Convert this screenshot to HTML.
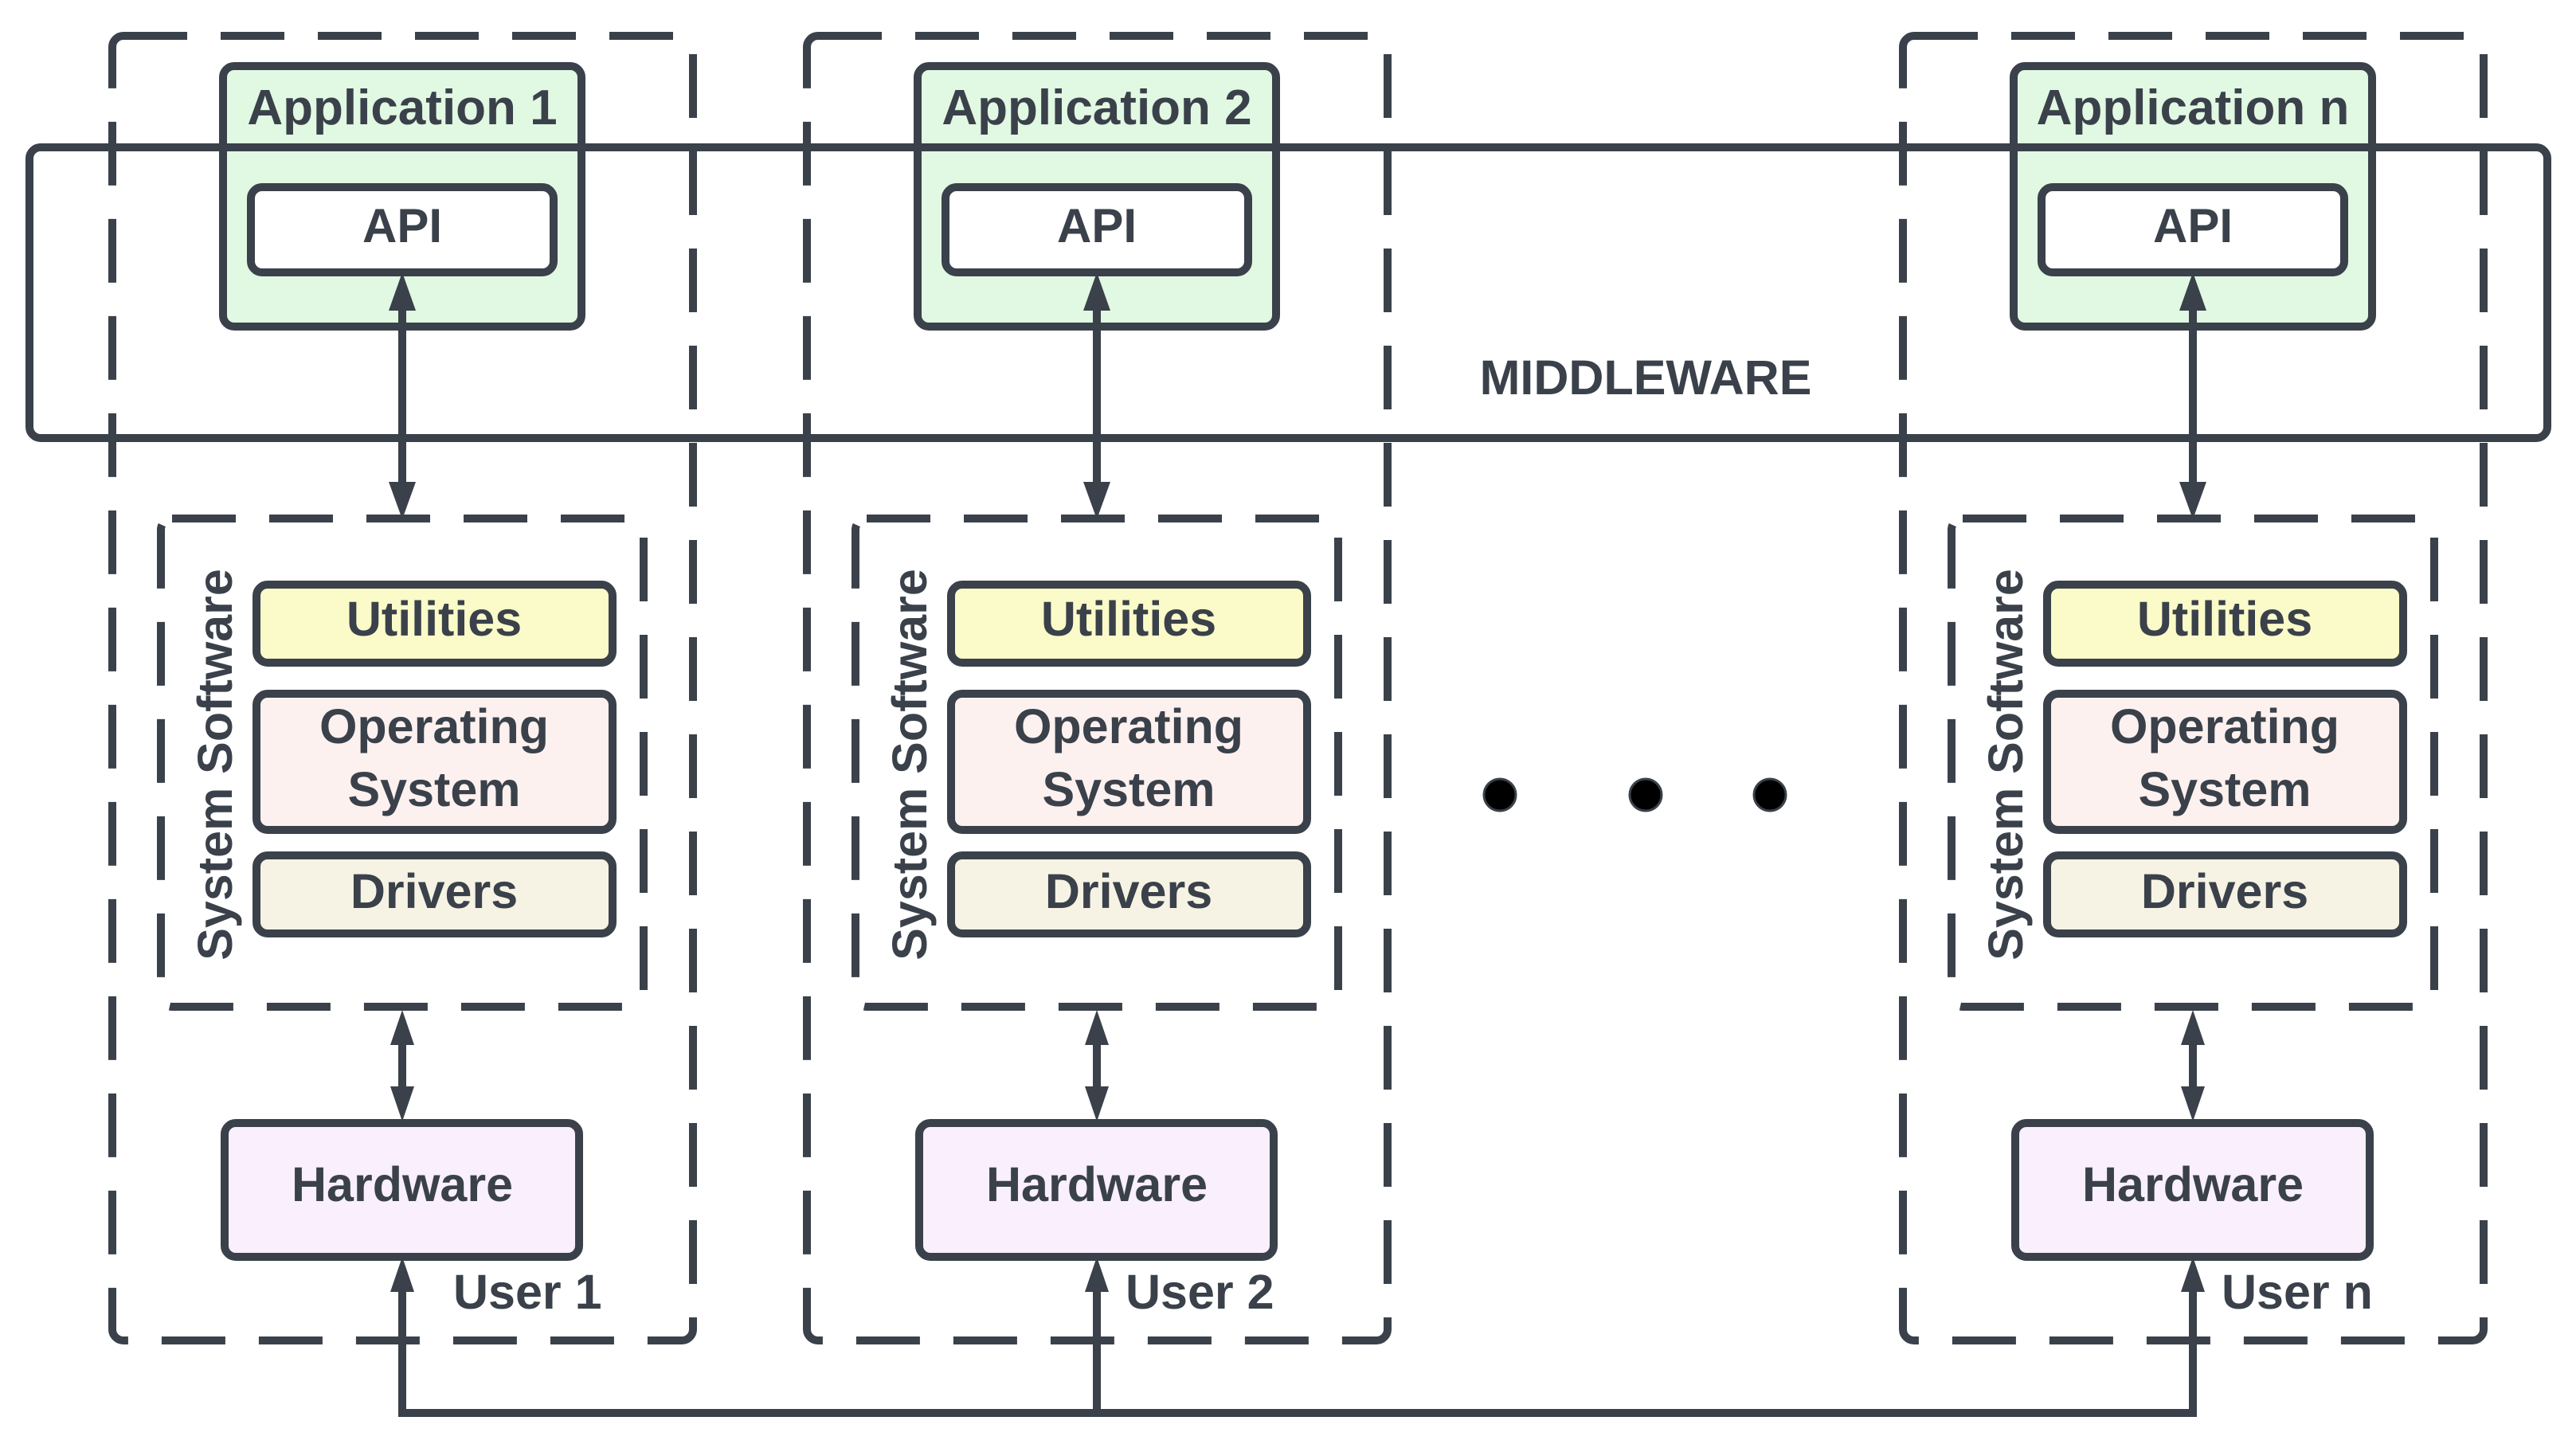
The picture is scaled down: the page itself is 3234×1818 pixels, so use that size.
<!DOCTYPE html>
<html><head><meta charset="utf-8"><style>
html,body{margin:0;padding:0;background:#fff;}
svg{display:block}
text{font-family:"Liberation Sans",sans-serif;font-weight:bold;fill:#3a414a}
</style></head><body>
<svg width="3234" height="1818" viewBox="0 0 3234 1818" xmlns="http://www.w3.org/2000/svg">
<defs>
<g id="col">
  <!-- user dashed box -->
  <rect x="141" y="45" width="729" height="1638" rx="14" fill="none" stroke="#3a414a" stroke-width="10" stroke-dasharray="80 42"/>
  <!-- application box -->
  <rect x="280" y="83" width="450" height="327" rx="14" fill="#e1f8e3" stroke="#3a414a" stroke-width="10"/>
</g>
<g id="col2">
  <rect x="315" y="235" width="380" height="107" rx="14" fill="#fff" stroke="#3a414a" stroke-width="10"/>
  <text x="505" y="304" font-size="60" text-anchor="middle">API</text>
  <!-- arrow API <-> system software -->
  <line x1="505" y1="380" x2="505" y2="610" stroke="#3a414a" stroke-width="10"/>
  <polygon points="505,342 488,390 522,390" fill="#3a414a"/>
  <polygon points="505,652 488,605 522,605" fill="#3a414a"/>
  <!-- system software dashed -->
  <rect x="202" y="651" width="606" height="613" rx="14" fill="none" stroke="#3a414a" stroke-width="10" stroke-dasharray="80 42"/>
  <text transform="translate(291,960) rotate(-90)" font-size="61" text-anchor="middle">System Software</text>
  <rect x="322" y="734" width="447" height="98" rx="14" fill="#fbfbc9" stroke="#3a414a" stroke-width="10"/>
  <text x="545" y="798" font-size="61" text-anchor="middle">Utilities</text>
  <rect x="322" y="871" width="447" height="171" rx="14" fill="#fdf1ef" stroke="#3a414a" stroke-width="10"/>
  <text x="545" y="933" font-size="61" text-anchor="middle">Operating</text>
  <text x="545" y="1012" font-size="61" text-anchor="middle">System</text>
  <rect x="322" y="1074" width="447" height="98" rx="14" fill="#f6f3e4" stroke="#3a414a" stroke-width="10"/>
  <text x="545" y="1140" font-size="61" text-anchor="middle">Drivers</text>
  <!-- arrow sys <-> hardware -->
  <line x1="505" y1="1300" x2="505" y2="1375" stroke="#3a414a" stroke-width="10"/>
  <polygon points="505,1268 490,1312 520,1312" fill="#3a414a"/>
  <polygon points="505,1408 490,1364 520,1364" fill="#3a414a"/>
  <rect x="282" y="1410" width="445" height="168" rx="14" fill="#f9effd" stroke="#3a414a" stroke-width="10"/>
  <text x="505" y="1508" font-size="61" text-anchor="middle">Hardware</text>
  <!-- bottom arrow -->
  <line x1="505" y1="1610" x2="505" y2="1779" stroke="#3a414a" stroke-width="10"/>
  <polygon points="505,1578 490,1622 520,1622" fill="#3a414a"/>
</g>
</defs>

<use href="#col"/>
<use href="#col" transform="translate(872,0)"/>
<use href="#col" transform="translate(2248,0)"/>

<text x="505" y="156" font-size="62" text-anchor="middle">Application 1</text>
<text x="1377" y="156" font-size="62" text-anchor="middle">Application 2</text>
<text x="2753" y="156" font-size="62" text-anchor="middle">Application n</text>

<!-- middleware -->
<rect x="37" y="185" width="3161" height="365" rx="14" fill="none" stroke="#3a414a" stroke-width="10"/>
<text x="2066" y="495" font-size="61" text-anchor="middle">MIDDLEWARE</text>

<use href="#col2"/>
<use href="#col2" transform="translate(872,0)"/>
<use href="#col2" transform="translate(2248,0)"/>

<text x="569" y="1643" font-size="61">User 1</text>
<text x="1413" y="1643" font-size="61">User 2</text>
<text x="2789" y="1643" font-size="61">User n</text>

<line x1="500" y1="1774" x2="2758" y2="1774" stroke="#3a414a" stroke-width="10"/>

<circle cx="1883" cy="998" r="20" fill="#000" stroke="#3a414a" stroke-width="3"/>
<circle cx="2066" cy="998" r="20" fill="#000" stroke="#3a414a" stroke-width="3"/>
<circle cx="2222" cy="998" r="20" fill="#000" stroke="#3a414a" stroke-width="3"/>
</svg>
</body></html>
